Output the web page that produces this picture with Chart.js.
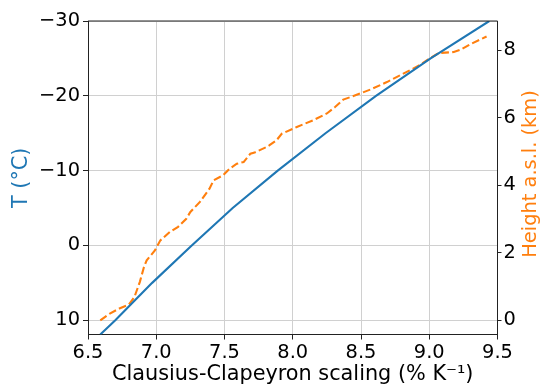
<!DOCTYPE html>
<html><head><meta charset="utf-8">
<script src="https://cdn.jsdelivr.net/npm/chart.js@4"></script>
<style>html,body{margin:0;padding:0;background:#fff;overflow:hidden}</style>
</head><body>
<canvas id="c" width="540" height="387" style="display:block;width:540px;height:387px"></canvas>
<script>
// Blue: temperature (left axis) vs Clausius-Clapeyron scaling
const blueX = [6.59, 6.70, 6.97, 7.26, 7.56, 7.89, 8.24, 8.61, 9.01, 9.44];
const blueT = [11.9, 10, 5, 0, -5, -10, -15, -20, -25, -30];
// Orange: height a.s.l. (right axis) vs Clausius-Clapeyron scaling
const orangeX = [6.59, 6.66, 6.73, 6.80, 6.84, 6.88, 6.91, 6.93, 6.99, 7.03, 7.10, 7.16, 7.22, 7.25, 7.32, 7.39, 7.42, 7.49, 7.54, 7.59, 7.64, 7.69, 7.72, 7.81, 7.83, 7.88, 7.92, 8.03, 8.15, 8.25, 8.31, 8.37, 8.44, 8.57, 8.69, 8.81, 8.93, 9.00, 9.07, 9.18, 9.23, 9.30, 9.42];
const orangeH = [0.00, 0.20, 0.35, 0.47, 0.69, 1.14, 1.58, 1.78, 2.07, 2.37, 2.62, 2.77, 3.01, 3.21, 3.51, 3.90, 4.15, 4.30, 4.50, 4.64, 4.69, 4.94, 4.97, 5.14, 5.19, 5.33, 5.53, 5.73, 5.93, 6.13, 6.32, 6.54, 6.64, 6.84, 7.06, 7.31, 7.56, 7.75, 7.92, 7.95, 8.02, 8.18, 8.41];

const xTicks = [6.5, 7.0, 7.5, 8.0, 8.5, 9.0, 9.5];
const tTicks = [-30, -20, -10, 0, 10];
const hTicks = [0, 2, 4, 6, 8];
const xTitle = 'Clausius-Clapeyron scaling (% K\u207B\u00B9)';
const tTitle = 'T (\u00B0C)';
const hTitle = 'Height a.s.l. (km)';

const BLUE = '#1f77b4', ORANGE = '#ff7f0e';
const FAMILY = '"DejaVu Sans", sans-serif';
const FONT = {family: FAMILY, size: 19.4};
const TFONT = {family: FAMILY, size: 20.8};
const GRID = '#d0d0d0', SPINE = '#222';

const blueData = blueX.map((x, i) => ({x, y: blueT[i]}));
const orangeData = orangeX.map((x, i) => ({x, y: orangeH[i]}));
const fmtMinus = v => String(v).replace('-', '\u2212');

const decor = {
  id: 'decor',
  afterDraw(chart) {
    const {ctx, chartArea: a} = chart;
    ctx.save();
    ctx.strokeStyle = SPINE; ctx.lineWidth = 1;
    ctx.beginPath(); ctx.moveTo(a.left, a.top); ctx.lineTo(a.right, a.top); ctx.stroke();
    ctx.translate(531, 174);
    ctx.rotate(-Math.PI / 2);
    ctx.textAlign = 'center'; ctx.textBaseline = 'middle';
    ctx.fillStyle = ORANGE;
    ctx.font = FONT.size + 'px ' + FAMILY;
    ctx.fillText(hTitle, 0, 0);
    ctx.restore();
  }
};

new Chart(document.getElementById('c'), {
  type: 'line',
  data: {
    datasets: [
      {data: blueData, yAxisID: 'y', borderColor: BLUE, borderWidth: 2.1, pointRadius: 0, tension: 0, fill: false},
      {data: orangeData, yAxisID: 'y2', borderColor: ORANGE, borderWidth: 2.1, borderDash: [7.7, 3.3], pointRadius: 0, tension: 0, fill: false}
    ]
  },
  options: {
    responsive: false, animation: false, devicePixelRatio: 1,
    layout: {padding: {top: 21, left: 0, right: 0, bottom: 0}},
    plugins: {legend: {display: false}, tooltip: {enabled: false}},
    scales: {
      x: {
        type: 'linear', position: 'bottom', min: 6.5, max: 9.5,
        afterBuildTicks: s => { s.ticks = xTicks.map(v => ({value: v})); },
        afterFit: s => { s.height = 52.5; },
        ticks: {font: FONT, color: '#000', padding: 2, maxRotation: 0, autoSkip: false, callback: v => Number(v).toFixed(1)},
        grid: {color: GRID, lineWidth: 1, tickColor: SPINE, tickLength: 5},
        border: {color: SPINE, width: 1},
        title: {display: true, text: xTitle, font: TFONT, color: '#000', padding: {top: 0, bottom: 0}}
      },
      y: {
        type: 'linear', position: 'left', reverse: true, min: -30, max: 11.9,
        afterBuildTicks: s => { s.ticks = tTicks.map(v => ({value: v})); },
        afterFit: s => { s.width = 88; },
        ticks: {font: FONT, color: '#000', padding: 3, callback: fmtMinus},
        grid: {color: GRID, lineWidth: 1, tickColor: SPINE, tickLength: 5},
        border: {color: SPINE, width: 1},
        title: {display: true, text: tTitle, font: TFONT, color: BLUE, padding: {top: 9, bottom: 0}}
      },
      y2: {
        type: 'linear', position: 'right', min: -0.42, max: 8.87,
        afterBuildTicks: s => { s.ticks = hTicks.map(v => ({value: v})); },
        afterFit: s => { s.width = 42.5; },
        ticks: {font: FONT, color: '#000', padding: 2},
        grid: {drawOnChartArea: false, tickColor: SPINE, tickLength: 4},
        border: {color: SPINE, width: 1}
      }
    }
  },
  plugins: [decor]
});
</script>
</body></html>
